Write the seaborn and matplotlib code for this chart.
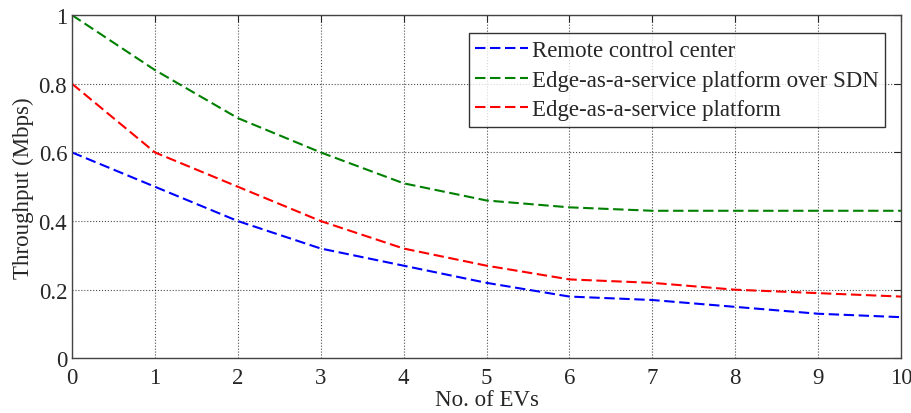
import matplotlib
matplotlib.use("Agg")
import matplotlib.pyplot as plt
import seaborn as sns
import pandas as pd

evs = [0, 1, 2, 3, 4, 5, 6, 7, 8, 9, 10]
remote = [0.60, 0.50, 0.40, 0.32, 0.27, 0.22, 0.18, 0.17, 0.15, 0.13, 0.12]
edge_sdn = [1.00, 0.84, 0.70, 0.60, 0.51, 0.46, 0.44, 0.43, 0.43, 0.43, 0.43]
edge = [0.80, 0.60, 0.50, 0.40, 0.32, 0.27, 0.23, 0.22, 0.20, 0.19, 0.18]
series_names = ["Remote control center", "Edge-as-a-service platform over SDN", "Edge-as-a-service platform"]
colors = ["#0000ff", "#008000", "#ff0000"]
xticks = [0, 1, 2, 3, 4, 5, 6, 7, 8, 9, 10]
yticks = [0, 0.2, 0.4, 0.6, 0.8, 1]
ytick_labels = ["0", "0.2", "0.4", "0.6", "0.8", "1"]

sns.set_style("white")
plt.rcParams['font.family'] = ['Liberation Serif', 'DejaVu Serif']

fig = plt.figure(figsize=(9.12, 4.14), dpi=100)
ax = fig.add_axes([0.079, 0.132, 0.909, 0.829])

for name, vals, c in zip(series_names, [remote, edge_sdn, edge], colors):
    df = pd.DataFrame({"x": evs, "y": vals})
    sns.lineplot(data=df, x="x", y="y", ax=ax, color=c, linestyle=(0, (5, 2.2)),
                 linewidth=1.5, label=name)

ax.set_xlim(0, 10)
ax.set_ylim(0, 1)
ax.set_xticks(xticks)
ax.set_xticklabels([str(t) for t in xticks])
ax.set_yticks(yticks)
ax.set_yticklabels(ytick_labels)
ax.grid(True, linestyle=":", color="black", linewidth=0.8, alpha=0.7)
ax.tick_params(direction="in", top=True, right=True, labelsize=16.5, length=5,
               width=0.8)
ax.tick_params(axis="x", pad=6)
ax.tick_params(axis="y", pad=3.5)
for s in ax.spines.values():
    s.set_color("#444444")
    s.set_linewidth(1.0)
ax.set_xlabel("No. of EVs", fontsize=16.5, labelpad=1)
ax.set_ylabel("Throughput (Mbps)", fontsize=16.5, labelpad=3)

leg = ax.legend(loc="upper right", bbox_to_anchor=(0.981, 0.948), fontsize=16.5,
                frameon=True, fancybox=False, edgecolor="black",
                handlelength=2.3, handletextpad=0.15, borderpad=0.3,
                labelspacing=0.38, borderaxespad=0)
leg.get_frame().set_linewidth(1.0)

fig.savefig("out.png", dpi=100)
